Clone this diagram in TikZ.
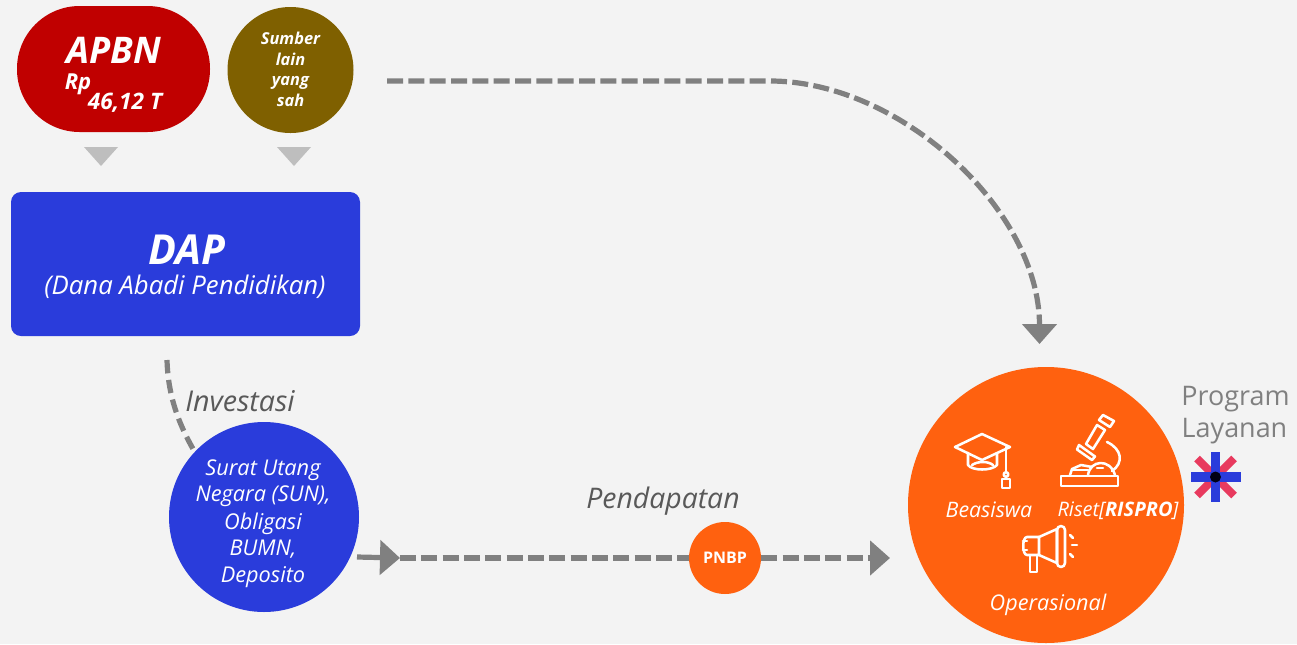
\documentclass[tikz,border=0pt]{standalone}
\usepackage{fontspec}
\setmainfont{Open Sans}
\usetikzlibrary{arrows.meta,calc}
\definecolor{bg}{HTML}{F3F3F3}
\definecolor{apbnred}{HTML}{C00000}
\definecolor{olive}{HTML}{7F6000}
\definecolor{dapblue}{HTML}{2A3CDB}
\definecolor{orangefill}{HTML}{FF610F}
\definecolor{flowgrey}{HTML}{808080}
\definecolor{pinkx}{HTML}{E83A5E}
\newcommand{\fsz}[1]{\fontsize{#1}{#1}\selectfont}
\tikzset{
  x=0.75pt,y=-0.75pt,
  flow/.style={draw=flowgrey,line width=3.9pt,dash pattern=on 12pt off 4pt},
  solidflow/.style={draw=flowgrey,line width=3.9pt},
  bigtip/.style={-{Triangle[width=25.5pt,length=15pt,fill=flowgrey]}},
  blob/.style={circle,inner sep=0pt,text=white,align=center},
  label/.style={inner sep=0pt,align=center,font=\itshape},
  dropmark/.style={fill=bg!78!black,draw=none},
  icon/.style={draw=white,line width=1.9pt,line join=round,line cap=round},
}
\begin{document}
\begin{tikzpicture}
\useasboundingbox (0,0) rectangle (1297,644);
\fill[bg] (0,0) rectangle (1297,644);

% sources
\fill[apbnred,rounded corners=47pt] (17,6) rectangle (210,132);
\node[label,text=white,font=\bfseries\itshape\fsz{27.5}] (apbn) at (114,50) {APBN};
\node[label,text=white,font=\bfseries\itshape\fsz{16.5}] (rp) at (78,84) {Rp};
\node[label,text=white,font=\bfseries\itshape\fsz{17}] (nilai) at (125,103) {46,12 T};
\node[blob,fill=olive,minimum size=94.5pt,font=\bfseries\itshape\fsz{12.3}] (lain) at (290.5,70)
  {\begin{tabular}{@{}c@{}}\rule{0pt}{12pt}Sumber\\[2.6pt]lain\\[2.6pt]yang\\[2.6pt]sah\end{tabular}};
\fill[dropmark] (84,147) -- (118,147) -- (101,166) -- cycle;
\fill[dropmark] (277,147) -- (311,147) -- (294,166) -- cycle;

% DAP
\fill[dapblue,rounded corners=7.5pt] (11,192) rectangle (360,336);
\coordinate (dapout) at (167,360);
\node[label,text=white,font=\bfseries\itshape\fsz{31}] (dap) at (187,249.5) {DAP};
\node[label,text=white,font=\itshape\fsz{19.3}] (dapsub) at (185,287) {(Dana Abadi Pendidikan)};

% investment
\draw[flow,dash pattern=on 10pt off 5pt] (dapout) .. controls (168,395) and (178,425) .. (199,459);
\node[blob,fill=dapblue,minimum size=142.5pt] (sun) at (264,517) {};
\node[label,text=white,font=\itshape\fsz{16.3}] (suntext) at (263,524)
  {\begin{tabular}{@{}c@{}}Surat Utang\\[3.2pt]Negara (SUN),\\[3.2pt]Obligasi\\[3.2pt]BUMN,\\[3.2pt]Deposito\end{tabular}};
\node[label,text=black!65,font=\itshape\fsz{21.5}] (inv) at (240,401) {Investasi};

% top route
\coordinate (topstart) at (387,81);
\coordinate (topbend) at (770,81);
\coordinate (toptip) at (1039.5,344);
\draw[flow,bigtip] (topstart) -- (topbend) .. controls (900,81) and (1039.5,210) .. (toptip);

% bottom route
\coordinate (sunout) at (357,557);
\coordinate (midtip) at (400,558);
\coordinate (endtip) at (890,558);
\node[blob,fill=orangefill,minimum size=54pt,font=\bfseries\fsz{12}] (pnbp) at (725,558) {PNBP};
\draw[solidflow,bigtip] (sunout) -- (midtip);
\draw[flow] (midtip) -- (pnbp);
\draw[flow,bigtip] (pnbp) -- (endtip);
\node[label,text=black!65,font=\itshape\fsz{21.3}] (pend) at (663,501) {Pendapatan};

% programme circle
\node[circle,fill=orangefill,minimum size=207pt,inner sep=0pt] (prog) at (1046,505) {};
\node[label,text=white,font=\itshape\fsz{16}] (bea) at (989,510) {Beasiswa};
\node[label,text=white,font=\itshape\fsz{15}] (ris) at (1118,511) {Riset[{\bfseries RISPRO}]};
\node[label,text=white,font=\itshape\fsz{16.2}] (ops) at (1048,605) {Operasional};

% cap icon
\draw[icon] (955,447) -- (982,434) -- (1010,447) -- (982,460) -- cycle;
\draw[icon] (968,453) -- (968,465) .. controls (972,471) and (992,471) .. (997,465) -- (997,453);
\draw[icon] (972,465) .. controls (978,461) and (988,461) .. (993,465);
\draw[icon] (1006,447) -- (1006,471);
\draw[icon] (1006,474.5) circle (2.3);
\draw[icon] (1002,479) rectangle (1010,488);

% microscope icon
\draw[icon] (1103,415) -- (1114,421) -- (1110,427) -- (1099,420) -- cycle;
\draw[icon] (1097,425) -- (1105,430) -- (1093,449) -- (1086,444) -- cycle;
\draw[icon] (1079,445) -- (1095,456.5) -- (1092,460) -- (1077,449.5) -- cycle;
\draw[icon] (1107,442) .. controls (1122,449) and (1124,463) .. (1112,471);
\draw[icon] (1061,476) rectangle (1118,486);
\draw[icon] (1070,475) -- (1072,469) -- (1081,465) -- (1092,467);
\draw[icon] (1072,470) -- (1088,470);
\draw[icon] (1088,475) .. controls (1090,460) and (1110,458) .. (1115,475);
\draw[icon] (1097,468) -- (1103,468);

% megaphone icon
\draw[icon] (1039,537) -- (1027,537) .. controls (1022,537) and (1022,555) .. (1027,555) -- (1039,555) -- cycle;
\draw[icon] (1039,537) -- (1057,529) -- (1057,563) -- (1039,555);
\draw[icon,rounded corners=3pt] (1057,526) rectangle (1065,567);
\draw[icon] (1023,541) -- (1027,541);
\draw[icon] (1023,550) -- (1027,550);
\draw[icon] (1030,556) -- (1030,572) -- (1037,572) -- (1037,556);
\draw[icon] (1070,535) -- (1073,538);
\draw[icon] (1072,545) -- (1077,545);
\draw[icon] (1070,554) -- (1073,557);

% programme label
\node[label,text=flowgrey,font=\fsz{20.2}\upshape] (pl1) at (1235.5,399) {Program};
\node[label,text=flowgrey,font=\fsz{20.2}\upshape] (pl2) at (1234.5,431) {Layanan};
\coordinate (star) at (1215.5,477);
\draw[pinkx,line width=6pt] ($(star)+(-18.5,-18.5)$) -- ($(star)+(18.5,18.5)$);
\draw[pinkx,line width=6pt] ($(star)+(18.5,-18.5)$) -- ($(star)+(-18.5,18.5)$);
\fill[dapblue] (1211,452) rectangle (1220,502);
\fill[dapblue] (1191,472) rectangle (1241,482);
\fill[black!92!blue] (star) circle (5.5);
\end{tikzpicture}
\end{document}
